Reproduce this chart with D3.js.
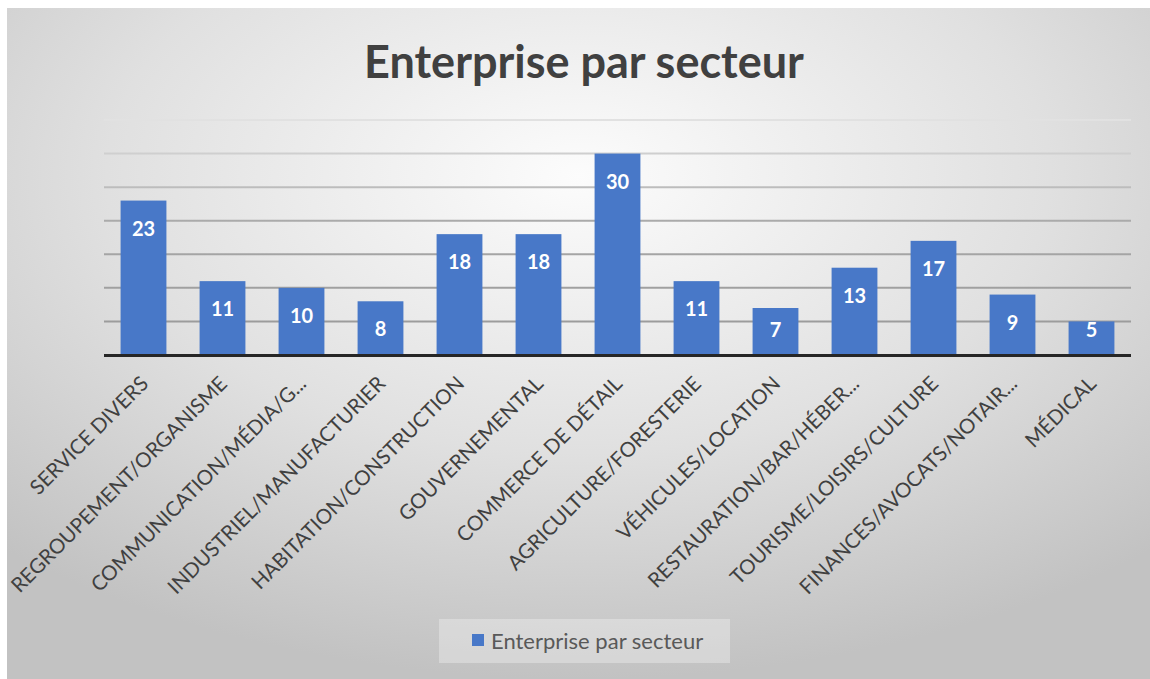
<!DOCTYPE html>
<html>
<head>
<meta charset="utf-8">
<script src="https://cdn.jsdelivr.net/npm/d3@7"></script>
<style>
  html, body { margin: 0; padding: 0; background: #fff; }
  svg { display: block; }
</style>
</head>
<body>
<div id="chart"></div>
<script>
// Chart data
var chartTitle = "Enterprise par secteur";
var seriesName = "Enterprise par secteur";
var categories = [
    "SERVICE DIVERS",
    "REGROUPEMENT/ORGANISME",
    "COMMUNICATION/MÉDIA/G...",
    "INDUSTRIEL/MANUFACTURIER",
    "HABITATION/CONSTRUCTION",
    "GOUVERNEMENTAL",
    "COMMERCE DE DÉTAIL",
    "AGRICULTURE/FORESTERIE",
    "VÉHICULES/LOCATION",
    "RESTAURATION/BAR/HÉBER...",
    "TOURISME/LOISIRS/CULTURE",
    "FINANCES/AVOCATS/NOTAIR...",
    "MÉDICAL"
];
var values = [23, 11, 10, 8, 18, 18, 30, 11, 7, 13, 17, 9, 5];
var gridTicks = [5, 10, 15, 20, 25, 30, 35];

(function () {
    var width = 1150, height = 679;
    var margin = {top: 120, right: 19, bottom: 324, left: 104};
    var barColor = "#4878c8";
    var font = "Lato, 'Open Sans', sans-serif";

    var svg = d3.select("#chart").append("svg")
        .attr("width", width)
        .attr("height", height);

    var defs = svg.append("defs");

    // Background radial gradient (light centre, grey edges)
    var bg = defs.append("radialGradient")
        .attr("id", "bg-grad")
        .attr("cx", "50%").attr("cy", "25%")
        .attr("r", "75%");
    bg.append("stop").attr("offset", "0%").attr("stop-color", "#fcfcfc");
    bg.append("stop").attr("offset", "55%").attr("stop-color", "#e0e0e0");
    bg.append("stop").attr("offset", "100%").attr("stop-color", "#c2c2c2");

    // Gridline fade towards the top
    var gg = defs.append("linearGradient")
        .attr("id", "grid-grad")
        .attr("gradientUnits", "userSpaceOnUse")
        .attr("x1", 0).attr("y1", 115).attr("x2", 0).attr("y2", 360);
    gg.append("stop").attr("offset", "0%").attr("stop-color", "#e4e4e4");
    gg.append("stop").attr("offset", "45%").attr("stop-color", "#a8a8a8");
    gg.append("stop").attr("offset", "100%").attr("stop-color", "#979797");

    svg.append("rect")
        .attr("x", 7).attr("y", 8)
        .attr("width", width - 7).attr("height", height - 8)
        .attr("fill", "url(#bg-grad)");

    // Scales
    var x = d3.scaleBand()
        .domain(categories)
        .range([margin.left, width - margin.right])
        .paddingInner(0.42)
        .paddingOuter(0.21);

    var y = d3.scaleLinear()
        .domain([0, 35])
        .range([height - margin.bottom, margin.top]);

    // Gridlines
    svg.append("g")
        .selectAll("line")
        .data(gridTicks)
        .enter()
        .append("line")
        .attr("x1", margin.left)
        .attr("x2", width - margin.right)
        .attr("y1", function(d) { return y(d); })
        .attr("y2", function(d) { return y(d); })
        .attr("stroke", "url(#grid-grad)")
        .attr("stroke-width", 2);

    // Bars
    svg.append("g")
        .selectAll("rect")
        .data(values)
        .enter()
        .append("rect")
        .attr("x", function(d, i) { return x(categories[i]); })
        .attr("y", function(d) { return y(d); })
        .attr("width", x.bandwidth())
        .attr("height", function(d) { return y(0) - y(d); })
        .attr("fill", barColor);

    // Value labels (inside end)
    svg.append("g")
        .selectAll("text")
        .data(values)
        .enter()
        .append("text")
        .attr("x", function(d, i) { return x(categories[i]) + x.bandwidth() / 2; })
        .attr("y", function(d) { return Math.min(y(d) + 28, y(0) - 25); })
        .attr("dy", "0.36em")
        .attr("text-anchor", "middle")
        .attr("font-family", font)
        .attr("font-weight", "bold")
        .attr("font-size", "20px")
        .attr("fill", "#ffffff")
        .text(function(d) { return d; });

    // Baseline axis
    svg.append("line")
        .attr("x1", margin.left)
        .attr("x2", width - margin.right)
        .attr("y1", y(0) + 0.5)
        .attr("y2", y(0) + 0.5)
        .attr("stroke", "#262626")
        .attr("stroke-width", 3);

    // Category labels rotated -45
    svg.append("g")
        .selectAll("text")
        .data(categories)
        .enter()
        .append("text")
        .attr("transform", function(d) {
            var cx = x(d) + x.bandwidth() / 2 + 6;
            var cy = y(0) + 30;
            return "translate(" + cx + "," + cy + ") rotate(-45)";
        })
        .attr("text-anchor", "end")
        .attr("font-family", font)
        .attr("font-size", "20.5px")
        .attr("fill", "#404040")
        .text(function(d) { return d; });

    // Title
    svg.append("text")
        .attr("x", 584)
        .attr("y", 78)
        .attr("text-anchor", "middle")
        .attr("font-family", font)
        .attr("font-weight", "bold")
        .attr("font-size", "45px")
        .attr("fill", "#404040")
        .text(chartTitle);

    // Legend
    var legend = svg.append("g");
    legend.append("rect")
        .attr("x", 439).attr("y", 619)
        .attr("width", 291).attr("height", 44)
        .attr("fill", "#ffffff")
        .attr("fill-opacity", 0.3);
    legend.append("rect")
        .attr("x", 472).attr("y", 634)
        .attr("width", 12).attr("height", 12)
        .attr("fill", barColor);
    legend.append("text")
        .attr("x", 491).attr("y", 641)
        .attr("dy", "0.35em")
        .attr("font-family", font)
        .attr("font-size", "22px")
        .attr("fill", "#595959")
        .text(seriesName);
})();
</script>
</body>
</html>
